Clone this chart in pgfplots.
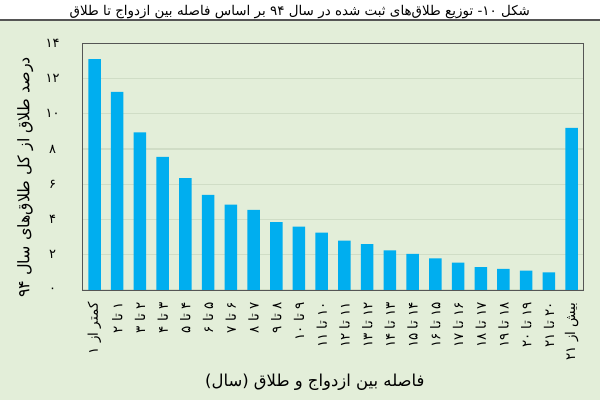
\documentclass[border=0pt]{standalone}
\usepackage{pgfplots}
\pgfplotsset{compat=1.18}
\usepackage{fontspec}
\setmainfont{DejaVu Sans}
\newfontfamily\fa[Script=Arabic]{DejaVu Sans}
\TeXXeTstate=1

\definecolor{bgc}{RGB}{227,238,217}
\definecolor{gridc}{RGB}{208,221,198}
\definecolor{barc}{RGB}{0,174,239}
\definecolor{framec}{RGB}{85,85,85}

% divorce share by years between marriage and divorce
\pgfplotstableread{
x  y
0  13.10
1  11.25
2  8.95
3  7.55
4  6.35
5  5.40
6  4.85
7  4.55
8  3.85
9  3.60
10 3.25
11 2.80
12 2.60
13 2.25
14 2.05
15 1.80
16 1.55
17 1.30
18 1.20
19 1.10
20 1.00
21 9.20
}\divdata

\begin{document}
\begin{tikzpicture}
\useasboundingbox (0,0) rectangle (600bp,400bp);
\fill[bgc] (0,0) rectangle (600bp,380bp);
\draw[framec, line width=1.5bp] (0,380bp) -- (600bp,380bp);
\begin{axis}[
    at={(82.7bp,110bp)}, anchor=south west,
    scale only axis, width=500.3bp, height=246.7bp,
    ybar, bar width=12.5bp, bar shift=0pt,
    xmin=-0.52, xmax=21.5, ymin=0, ymax=14,
    axis line style={draw=framec, line width=1bp},
    major tick length=0pt,
    ymajorgrids, grid style={draw=gridc, line width=1.2bp},
    ytick={0,2,...,14},
    yticklabels={۰,۲,۴,۶,۸,۱۰,۱۲,۱۴},
    yticklabel style={font=\fa\fontsize{13}{15}\selectfont, anchor=center},
    yticklabel shift=30bp,
    xtick={0,...,21},
    xticklabels={
      {\beginR کمتر از ۱\endR},{\beginR ۱ تا ۲\endR},{\beginR ۲ تا ۳\endR},
      {\beginR ۳ تا ۴\endR},{\beginR ۴ تا ۵\endR},{\beginR ۵ تا ۶\endR},
      {\beginR ۶ تا ۷\endR},{\beginR ۷ تا ۸\endR},{\beginR ۸ تا ۹\endR},
      {\beginR ۹ تا ۱۰\endR},{\beginR ۱۰ تا ۱۱\endR},{\beginR ۱۱ تا ۱۲\endR},
      {\beginR ۱۲ تا ۱۳\endR},{\beginR ۱۳ تا ۱۴\endR},{\beginR ۱۴ تا ۱۵\endR},
      {\beginR ۱۵ تا ۱۶\endR},{\beginR ۱۶ تا ۱۷\endR},{\beginR ۱۷ تا ۱۸\endR},
      {\beginR ۱۸ تا ۱۹\endR},{\beginR ۱۹ تا ۲۰\endR},{\beginR ۲۰ تا ۲۱\endR},
      {\beginR بیش از ۲۱\endR}},
    xticklabel style={rotate=90, anchor=east, font=\fa\fontsize{13.5}{15}\selectfont},
    xticklabel shift=9bp,
    ylabel={\beginR درصد طلاق از کل طلاق‌های سال ۹۴\endR},
    ylabel style={at={(axis description cs:-0.115,0.456)}, anchor=center,
      font=\fa\fontsize{16}{18}\selectfont},
    xlabel={\beginR فاصله بین ازدواج و طلاق (سال)\endR},
    xlabel style={at={(axis description cs:0.464,-0.373)}, anchor=center,
      font=\fa\fontsize{16.5}{18}\selectfont},
    every axis title shift=0pt,
    title={\beginR شکل ۱۰- توزیع طلاق‌های ثبت شده در سال ۹۴ بر اساس فاصله بین ازدواج تا طلاق\endR},
    title style={at={(axis description cs:0.434,1.125)}, anchor=center,
      font=\fa\fontsize{13.5}{15}\selectfont},
]
\addplot[fill=barc, draw=none] table[x=x, y=y] {\divdata};
\end{axis}
\end{tikzpicture}
\end{document}
